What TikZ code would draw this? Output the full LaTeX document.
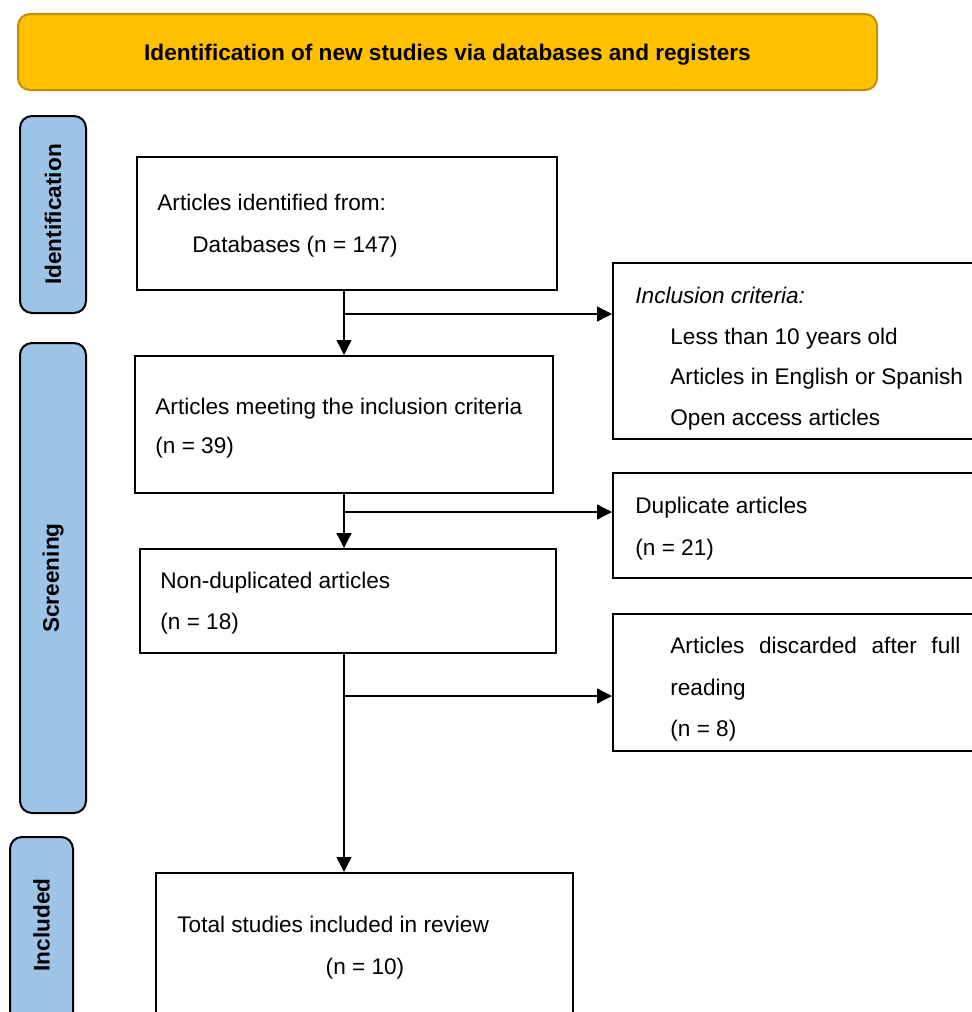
\documentclass[tikz,border=0pt]{standalone}
\usepackage{fontspec}
\setmainfont{Liberation Sans}
\usetikzlibrary{arrows.meta}
\usetikzlibrary{calc,positioning}

\definecolor{banner}{HTML}{FFC000}
\definecolor{bannerline}{HTML}{BF9000}
\definecolor{phaseblue}{HTML}{9DC3E6}

\begin{document}
\begin{tikzpicture}[x=0.5pt, y=-0.5pt,
    >={Triangle[length=7.5pt,width=7.5pt]},
    font=\fontsize{11.3}{13.6}\selectfont,
    box/.style={draw, line width=1pt, rectangle, inner sep=0pt},
    phase/.style={draw, line width=1pt, fill=phaseblue, rounded corners=6pt, inner sep=0pt},
    txt/.style={anchor=base west, inner sep=0pt},
    link/.style={line width=0.7pt}]

    \useasboundingbox (0,0) rectangle (972,1012);

    % header
    \node[draw=bannerline, line width=1pt, fill=banner, rounded corners=6pt,
          minimum width=429.5pt, minimum height=38pt, text depth=0pt] (head) at (447.5,52)
          {\bfseries Identification of new studies via databases and registers};

    % phases
    \node[phase, rotate=90, minimum width=98.5pt, minimum height=33pt] (idf) at (53,214.5) {\bfseries Identification};
    \node[phase, rotate=90, minimum width=235pt, minimum height=33pt] (scr) at (53,578) {\bfseries Screening};
    \node[phase, minimum width=31.5pt, minimum height=96.5pt] (inc) at (41.5,933.5) {};
    \node[rotate=90, inner sep=0pt] (inctxt) at (41.5,925) {\bfseries Included};

    % main column
    \node[box, minimum width=210pt, minimum height=66.5pt] (b1) at (347,223.5) {};
    \node[box, minimum width=209pt, minimum height=68.5pt] (b2) at (344,424.5) {};
    \node[box, minimum width=208pt, minimum height=52pt] (b3) at (348,601) {};
    \node[box, minimum width=208.5pt, minimum height=73.5pt] (b4) at (364.5,946.5) {};

    \node[txt] (b1a) at (157,210) {Articles identified from:};
    \node[txt] (b1b) at (192,252) {Databases (n = 147)};
    \node[txt] (b2a) at (155,414) {Articles meeting the inclusion criteria};
    \node[txt] (b2b) at (155,453) {(n = 39)};
    \node[txt] (b3a) at (160,588) {Non-duplicated articles};
    \node[txt] (b3b) at (160,629) {(n = 18)};
    \node[txt] (b4a) at (177,932) {Total studies included in review};
    \node[anchor=base, inner sep=0pt] (b4b) at (365,974) {(n = 10)};

    % side column
    \node[box, minimum width=186pt, minimum height=88pt] (r1) at (799,351) {};
    \node[box, minimum width=186pt, minimum height=52.5pt] (r2) at (799,525.5) {};
    \node[box, minimum width=186pt, minimum height=68.5pt] (r3) at (799,682.5) {};

    \node[txt] (r1a) at (635,303) {\itshape Inclusion criteria:};
    \node[txt] (r1b) at (670,344) {Less than 10 years old};
    \node[txt] (r1c) at (670,384) {Articles in English or Spanish};
    \node[txt] (r1d) at (670,425) {Open access articles};
    \node[txt] (r2a) at (635,513) {Duplicate articles};
    \node[txt] (r2b) at (635,555) {(n = 21)};
    \node[txt] (r3a) at (670,653) {\makebox[145pt][s]{Articles discarded after full}};
    \node[txt] (r3b) at (670,695) {reading};
    \node[txt] (r3c) at (670,736) {(n = 8)};

    % arrows
    \coordinate (j1) at (344,314);
    \coordinate (j2) at (344,512);
    \coordinate (j3) at (344,696);

    \draw[link, ->] (b1.south -| b2.north) -- (b2.north);
    \draw[link, ->] (b2.south) -- (b2.south |- b3.north);
    \draw[link, ->] (b3.south -| b2.south) -- (b4.north -| b2.south);

    \draw[link, ->] (j1) -- (j1 -| r1.west);
    \draw[link, ->] (j2) -- (j2 -| r2.west);
    \draw[link, ->] (j3) -- (j3 -| r3.west);

\end{tikzpicture}
\end{document}
